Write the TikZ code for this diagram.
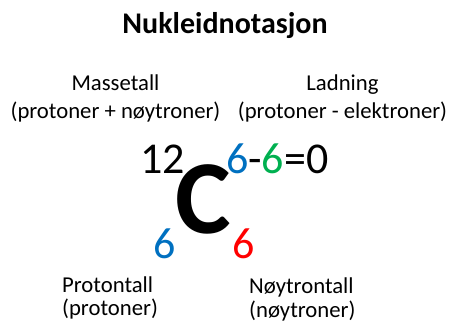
\documentclass[tikz,border=0pt]{standalone}
\usepackage{fontspec}
\setmainfont{Carlito}
\definecolor{nblue}{HTML}{0070C0}
\definecolor{ngreen}{HTML}{00B050}
\definecolor{nred}{HTML}{FF0000}
\tikzset{
  lbl/.style={inner sep=0pt, font=\fontsize{22.7}{27}\selectfont},
  num/.style={inner sep=0pt, font=\fontsize{44}{48}\selectfont},
}
\begin{document}
\begin{tikzpicture}[x=1pt,y=-1pt]
\useasboundingbox (0,0) rectangle (454,322);
% title
\node[inner sep=0pt, anchor=base, font=\bfseries\fontsize{30}{34}\selectfont] (title) at (225,33) {Nukleidnotasjon};
% upper labels
\node[lbl, anchor=base] (mass1) at (115.5,90.7) {Massetall};
\node[lbl, anchor=base] (mass2) at (115.5,118) {(protoner + nøytroner)};
\node[lbl, anchor=base] (lad1) at (342.5,90.7) {Ladning};
\node[lbl, anchor=base] (lad2) at (342.5,118) {(protoner - elektroner)};
% nuclide symbol
\node[inner sep=0pt, anchor=base, font=\bfseries\fontsize{105}{110}\selectfont] (elem) at (203,233) {C};
\node[num, anchor=base east] (massnum) at (185,173) {12};
\node[num, anchor=base west] (charge) at (226,173) {\textcolor{nblue}{6}-\textcolor{ngreen}{6}=0};
\node[num, anchor=base, text=nblue] (protnum) at (165,258) {6};
\node[num, anchor=base, text=nred] (neutnum) at (244,258) {6};
% lower labels
\node[lbl, anchor=base west] (prot1) at (62,292) {Protontall};
\node[lbl, anchor=base west] (prot2) at (62,315) {(protoner)};
\node[lbl, anchor=base west] (neut1) at (249,293) {Nøytrontall};
\node[lbl, anchor=base west] (neut2) at (249,317) {(nøytroner)};
\end{tikzpicture}
\end{document}
